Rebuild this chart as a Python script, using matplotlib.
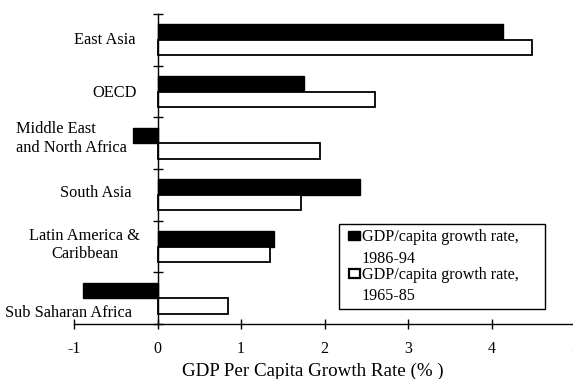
import matplotlib
matplotlib.use('Agg')
import matplotlib.pyplot as plt
from matplotlib.patches import Rectangle

plt.rcParams['font.family'] = ['Liberation Serif', 'DejaVu Serif']
plt.rcParams['axes.unicode_minus'] = False

# donnees
regions = ["East Asia", "OECD", "Middle East\nand North Africa", "South Asia",
           "Latin America &\nCaribbean", "Sub Saharan Africa"]
growth_86_94 = [4.14, 1.75, -0.29, 2.43, 1.40, -0.89]
growth_65_85 = [4.49, 2.61, 1.95, 1.72, 1.35, 0.84]
label_86_94 = "GDP/capita growth rate,\n1986-94"
label_65_85 = "GDP/capita growth rate,\n1965-85"
x_ticks = [-1, 0, 1, 2, 3, 4, 5]

W, H = 573, 379
fig = plt.figure(figsize=(W / 100, H / 100), dpi=100)
ax = fig.add_axes([74 / W, 1 - 324 / H, 501 / W, 310 / H])


def px(x, y):
    # pixels depuis le coin haut gauche -> coordonnees figure
    return x / W, 1 - y / H


pos = list(range(len(regions)))
h = 0.3
ax.barh([p - h / 2 for p in pos], growth_86_94, height=h, color='black',
        edgecolor='black', linewidth=1.0)
ax.barh([p + h / 2 for p in pos], growth_65_85, height=h, color='white',
        edgecolor='black', linewidth=1.3)

ax.set_xlim(-1, 5)
ax.set_ylim(len(regions) - 0.5, -0.5)

ax.spines['top'].set_visible(False)
ax.spines['right'].set_visible(False)
ax.spines['left'].set_position(('data', 0))
ax.spines['left'].set_linewidth(1.0)
ax.spines['bottom'].set_linewidth(1.0)

ax.set_yticks([p - 0.5 for p in pos] + [len(regions) - 0.5])
ax.set_yticklabels([])
ax.tick_params(axis='y', direction='inout', length=7, width=1)
ax.set_xticks(x_ticks)
ax.tick_params(axis='x', direction='inout', length=7, width=1, pad=9,
               labelsize=11.5)

fig.text(*px(313, 376), "GDP Per Capita Growth Rate (% )", fontsize=13.7,
         ha='center', va='baseline')

# etiquettes des regions (position en pixels : bord droit, centre vertical)
label_pos = [(135, 40), (137, 93), (127, 139), (132, 193), (140, 245), (132, 313)]
label_align = ['center', 'center', 'left', 'center', 'center', 'center']
for name, (lx, ly), al in zip(regions, label_pos, label_align):
    fig.text(*px(lx, ly), name, ha='right', va='center', fontsize=11.8,
             multialignment=al, linespacing=1.25)

# legende dessinee a la main (cadre type Excel)
fig.patches.append(Rectangle(px(339, 309), 206 / W, 85 / H, transform=fig.transFigure,
                             facecolor='white', edgecolor='black', linewidth=1.0))
fig.patches.append(Rectangle(px(348, 240), 12 / W, 9 / H, transform=fig.transFigure,
                             facecolor='black', edgecolor='black', linewidth=1.0))
fig.patches.append(Rectangle(px(349, 278), 11 / W, 9 / H, transform=fig.transFigure,
                             facecolor='white', edgecolor='black', linewidth=1.6))
baselines = [241, 263, 279, 300]
lines = label_86_94.split("\n") + label_65_85.split("\n")
for txt, by in zip(lines, baselines):
    fig.text(*px(362, by), txt, ha='left', va='baseline', fontsize=11.6)

fig.savefig("out.png", dpi=100)
